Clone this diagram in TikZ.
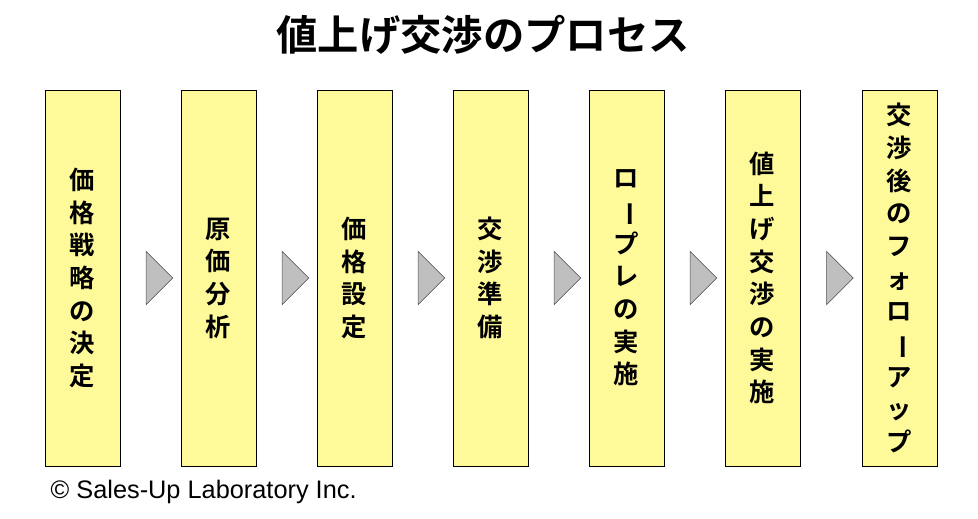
\documentclass[tikz,border=0pt]{standalone}
\usepackage{fontspec}
\setmainfont{Liberation Sans}
\newfontfamily\cjk{Noto Sans CJK JP Bold}
\usetikzlibrary{positioning,shapes.geometric,calc}
\newcommand{\cho}{\rotatebox[origin=c]{-90}{ー}}
\tikzset{
  stage/.style={draw=black, fill=yellow!40, minimum width=56pt, minimum height=282pt,
    inner sep=0pt, align=center, font=\cjk\fontsize{19}{24.5}\selectfont},
  gap/.style={isosceles triangle, isosceles triangle apex angle=90, draw=black!70,
    fill=black!25, inner sep=0pt, minimum height=20pt, minimum width=40pt}
}
\begin{document}
\begin{tikzpicture}[x=0.75pt,y=-0.75pt]
\useasboundingbox (0,0) rectangle (978,518);
\node[font=\cjk\fontsize{31}{34}\selectfont] (title) at (483,35) {値上げ交渉のプロセス};
\node[stage] (s1) at (82.5,278) {価\\格\\戦\\略\\の\\決\\定};
\node[stage] (s2) at (218.5,278) {原\\価\\分\\析};
\node[stage] (s3) at (354.5,278) {価\\格\\設\\定};
\node[stage] (s4) at (490.5,278) {交\\渉\\準\\備};
\node[stage] (s5) at (626.5,278) {ロ\\\cho\\プ\\レ\\の\\実\\施};
\node[stage] (s6) at (762.5,278) {値\\上\\げ\\交\\渉\\の\\実\\施};
\node[stage] (s7) at (899.5,278) {交\\渉\\後\\の\\フ\\ォ\\ロ\\\cho\\ア\\ッ\\プ};
\foreach \a/\b in {s1/s2,s2/s3,s3/s4,s4/s5,s5/s6,s6/s7}
  \node[gap, xshift=5pt] (g-\a) at ($(\a.east)!0.5!(\b.west)$) {};
\node[anchor=west, font=\fontsize{19}{22}\selectfont] (copy) at (46,492) {© Sales-Up Laboratory Inc.};
\end{tikzpicture}
\end{document}
